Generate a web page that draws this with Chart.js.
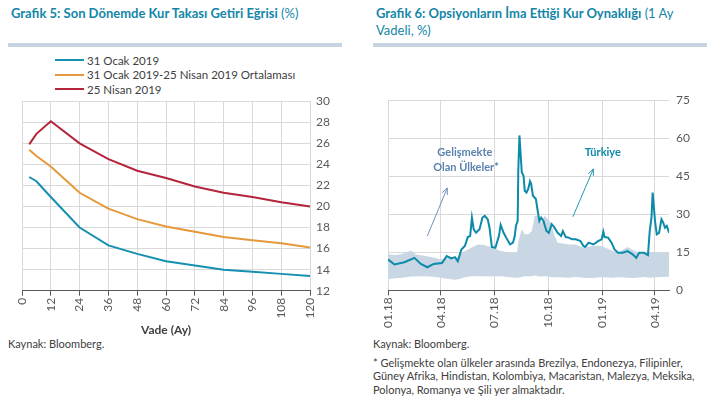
<!DOCTYPE html>
<html>
<head>
<meta charset="utf-8">
<script src="https://cdn.jsdelivr.net/npm/chart.js@4.4.0/dist/chart.umd.min.js"></script>
<style>
  body { margin: 0; width: 716px; height: 406px; background: #fff; font-family: Lato, sans-serif; position: relative; overflow: hidden; }
  .title { position: absolute; top: 5px; font-size: 13px; color: #1386a8; line-height: 17px; white-space: nowrap; }
  .bar { position: absolute; top: 43px; height: 4px; background: #c6d4e1; }
  .note { position: absolute; font-size: 11px; color: #404040; line-height: 13.4px; white-space: nowrap; }
  .box { position: absolute; width: 358px; }
  #legend5 { position: absolute; left: 55px; top: 53px; font-size: 11.5px; color: #404040; }
  #legend5 div { height: 14.5px; display: flex; align-items: center; }
  #legend5 .sw { display: inline-block; width: 29px; height: 2px; margin-right: 3px; }
</style>
</head>
<body>
<div class="title" style="left:11px"><b>Grafik 5: Son Dönemde Kur Takası Getiri Eğrisi</b> (%)</div>
<div class="bar" style="left:8px; width:334px"></div>
<div class="title" style="left:376px"><b>Grafik 6: Opsiyonların İma Ettiği Kur Oynaklığı</b> (1 Ay<br>Vadeli, %)</div>
<div class="bar" style="left:373px; width:334px"></div>

<div id="legend5"></div>
<div class="box" style="left:0; top:88px; height:249px"><canvas id="curveChart"></canvas></div>
<div class="box" style="left:358px; top:86px; height:251px"><canvas id="volChart"></canvas></div>

<div class="note" style="left:8px; top:337px">Kaynak: Bloomberg.</div>
<div class="note" style="left:373px; top:337px">Kaynak: Bloomberg.</div>
<div class="note" style="left:373px; top:356px">* Gelişmekte olan ülkeler arasında Brezilya, Endonezya, Filipinler,<br>Güney Afrika, Hindistan, Kolombiya, Macaristan, Malezya, Meksika,<br>Polonya, Romanya ve Şili yer almaktadır.</div>

<script>
// Grafik 5 - vade (ay) ve getiri (%)
const maturities = [3, 6, 12, 24, 36, 48, 60, 72, 84, 96, 108, 120];
const jan31 = [22.8, 22.4, 20.9, 18.0, 16.3, 15.5, 14.8, 14.4, 14.0, 13.8, 13.6, 13.4];
const avgJanApr = [25.4, 24.8, 23.8, 21.3, 19.8, 18.8, 18.1, 17.6, 17.1, 16.8, 16.5, 16.1];
const apr25 = [25.9, 26.9, 28.1, 26.0, 24.5, 23.4, 22.7, 21.9, 21.3, 20.9, 20.4, 20.0];
const curveNames = ['31 Ocak 2019', '31 Ocak 2019-25 Nisan 2019 Ortalaması', '25 Nisan 2019'];
const curveColors = ['#1690b0', '#e5993a', '#b4253b'];

// Grafik 6 - gün (1 Ocak 2018'den itibaren) ve oynaklık (%)
const turkeyDays = [0, 11, 28, 45, 56, 67, 78, 92, 100, 108, 114, 119, 125, 131, 136, 140, 143, 146, 150, 156,
  161, 165, 170, 173, 177, 183, 189, 192, 197, 203, 208, 213, 216, 218, 221, 222, 224, 226, 228, 231,
  233, 236, 239, 242, 244, 247, 252, 256, 258, 261, 265, 270, 274, 279, 283, 289, 295, 298, 303, 308,
  314, 320, 328, 333, 336, 342, 350, 358, 364, 367, 369, 375, 381, 386, 392, 400, 408, 417, 423, 428,
  436, 443, 446, 449, 451, 455, 458, 462, 466, 469, 472, 475, 479];
const turkeyVol = [12.2, 10.2, 11.1, 12.8, 10.4, 9.1, 10.4, 10.8, 13.5, 12.6, 13.1, 11.5, 16.1, 17.5, 21.0, 21.4, 28.7, 24.1, 22.7, 24.1,
  28.7, 29.4, 28.0, 24.7, 17.1, 16.8, 21.4, 25.8, 22.7, 20.1, 18.1, 18.8, 21.4, 25.4, 27.4, 47.2, 61.1, 53.8, 46.5, 45.2,
  39.3, 38.6, 40.0, 43.0, 41.9, 37.3, 36.0, 30.0, 27.4, 28.7, 27.4, 23.4, 22.7, 26.1, 25.0, 22.7, 21.4, 23.4, 21.0, 20.8,
  20.1, 20.1, 19.4, 17.5, 17.1, 18.8, 18.1, 19.4, 20.1, 23.1, 21.0, 20.8, 18.8, 16.1, 14.8, 14.8, 15.5, 14.2, 12.8, 14.8,
  14.8, 13.9, 23.4, 28.7, 38.6, 27.4, 22.1, 22.7, 28.0, 26.7, 24.7, 25.4, 22.7];
const bandDays = [0, 14, 25, 39, 47, 64, 81, 89, 103, 114, 122, 131, 142, 153, 164, 175, 192, 208, 220, 222,
  228, 233, 239, 245, 250, 256, 261, 267, 272, 278, 283, 289, 308, 320, 333, 347, 364, 381, 392, 408,
  419, 436, 447, 458, 479];
const bandHigh = [14.2, 13.9, 14.4, 15.7, 14.2, 13.5, 12.8, 12.2, 12.8, 12.2, 14.2, 15.5, 16.8, 18.1, 17.9, 17.1, 15.5, 14.8, 14.8, 19.4,
  24.1, 22.1, 22.1, 23.4, 29.4, 29.4, 26.7, 29.4, 28.0, 26.7, 22.1, 18.8, 18.1, 18.1, 16.8, 17.5, 17.5, 15.7, 14.8, 17.1,
  15.7, 14.2, 15.1, 14.8, 14.8];
const bandLow = [4.5, 4.8, 5.0, 5.5, 5.5, 5.6, 5.3, 5.0, 4.5, 4.2, 4.5, 5.2, 5.6, 5.6, 5.6, 5.5, 5.6, 5.2, 5.0, 5.0,
  5.3, 5.6, 5.6, 5.6, 5.8, 5.6, 5.5, 5.6, 5.5, 5.3, 5.2, 5.2, 5.0, 5.3, 5.0, 4.9, 5.2, 5.0, 5.2, 5.0,
  4.9, 5.3, 5.0, 5.2, 5.4];
const tickDays = [0, 90, 181, 273, 365, 455];
const tickLabels = ['01.18', '04.18', '07.18', '10.18', '01.19', '04.19'];

Chart.defaults.font.family = 'Lato';
Chart.defaults.animation = false;

function pts(xs, ys) {
  return xs.map((x, i) => ({x: x, y: ys[i]}));
}

// legend of Grafik 5 drawn as html, one per row
const legendBox = document.getElementById('legend5');
curveNames.forEach((name, i) => {
  const row = document.createElement('div');
  row.innerHTML = '<span class="sw" style="background:' + curveColors[i] + '"></span>' + name;
  legendBox.appendChild(row);
});

const curveSeries = [jan31, avgJanApr, apr25];
new Chart(document.getElementById('curveChart'), {
  type: 'line',
  data: {
    datasets: curveSeries.map((s, i) => ({
      label: curveNames[i],
      data: pts(maturities, s),
      borderColor: curveColors[i],
      borderWidth: 2,
      pointRadius: 0,
      tension: 0,
      fill: false
    }))
  },
  options: {
    responsive: true,
    maintainAspectRatio: false,
    layout: {padding: {left: 22, top: 4, right: 22, bottom: 0}},
    plugins: {legend: {display: false}, tooltip: {enabled: false}},
    scales: {
      x: {
        type: 'linear', min: 0, max: 120,
        ticks: {stepSize: 12, minRotation: 90, maxRotation: 90, color: '#595959', font: {size: 12}, padding: 2},
        grid: {color: '#d9d9d9', tickColor: '#595959', tickLength: 5},
        border: {color: '#595959'},
        title: {display: true, text: 'Vade (Ay)', color: '#404040', font: {size: 12, weight: 'bold'}, padding: {top: 2, bottom: 0}}
      },
      y: {
        position: 'right', min: 12, max: 30,
        ticks: {stepSize: 2, color: '#595959', font: {size: 12}, padding: 6},
        grid: {color: '#d9d9d9', drawTicks: false},
        border: {display: false}
      }
    }
  }
});

// arrows and notes of Grafik 6, in data units
const notes = [
  {text: 'Gelişmekte', day: 131, val: 54.2, color: '#5b83ad'},
  {text: 'Olan Ülkeler*', day: 133, val: 48.3, color: '#5b83ad'},
  {text: 'Türkiye', day: 366, val: 54.2, color: '#0c8aa9'}
];
const arrows = [
  {from: [67, 21.4], to: [101, 40.4], color: '#6f92b8'},
  {from: [315, 29.0], to: [350, 47.9], color: '#2a95b3'}
];

const notePlugin = {
  id: 'notes',
  afterDatasetsDraw(chart) {
    const ctx = chart.ctx, xs = chart.scales.x, ys = chart.scales.y;
    ctx.save();
    ctx.font = 'bold 11px Lato';
    ctx.textAlign = 'center';
    ctx.textBaseline = 'middle';
    notes.forEach(n => {
      ctx.fillStyle = n.color;
      ctx.fillText(n.text, xs.getPixelForValue(n.day), ys.getPixelForValue(n.val));
    });
    arrows.forEach(a => {
      const x0 = xs.getPixelForValue(a.from[0]), y0 = ys.getPixelForValue(a.from[1]);
      const x1 = xs.getPixelForValue(a.to[0]), y1 = ys.getPixelForValue(a.to[1]);
      const ang = Math.atan2(y1 - y0, x1 - x0);
      ctx.strokeStyle = a.color;
      ctx.lineWidth = 1;
      ctx.beginPath();
      ctx.moveTo(x0, y0);
      ctx.lineTo(x1, y1);
      ctx.moveTo(x1 - 7 * Math.cos(ang - 0.4), y1 - 7 * Math.sin(ang - 0.4));
      ctx.lineTo(x1, y1);
      ctx.lineTo(x1 - 7 * Math.cos(ang + 0.4), y1 - 7 * Math.sin(ang + 0.4));
      ctx.stroke();
    });
    ctx.restore();
  }
};

new Chart(document.getElementById('volChart'), {
  type: 'line',
  data: {
    datasets: [
      {
        label: 'Türkiye',
        data: pts(turkeyDays, turkeyVol),
        borderColor: '#0c8aa9',
        borderWidth: 2,
        pointRadius: 0,
        fill: false,
        order: 0
      },
      {
        label: 'low',
        data: pts(bandDays, bandLow),
        borderWidth: 0,
        borderColor: 'rgba(0,0,0,0)',
        pointRadius: 0,
        fill: false,
        order: 2
      },
      {
        label: 'Gelişmekte Olan Ülkeler',
        data: pts(bandDays, bandHigh),
        borderWidth: 0,
        borderColor: 'rgba(0,0,0,0)',
        backgroundColor: '#c9d7e5',
        pointRadius: 0,
        fill: '-1',
        order: 1
      }
    ]
  },
  options: {
    responsive: true,
    maintainAspectRatio: false,
    layout: {padding: {left: 30, top: 2, right: 19, bottom: 7}},
    plugins: {legend: {display: false}, tooltip: {enabled: false}},
    scales: {
      x: {
        type: 'linear', min: 0, max: 479,
        afterBuildTicks: scale => { scale.ticks = tickDays.map(v => ({value: v})); },
        ticks: {
          minRotation: 90, maxRotation: 90, color: '#595959', font: {size: 12}, padding: 2,
          callback: v => tickLabels[tickDays.indexOf(v)]
        },
        grid: {color: '#d9d9d9', tickColor: '#595959', tickLength: 5},
        border: {color: '#595959'}
      },
      y: {
        position: 'right', min: 0, max: 75,
        ticks: {stepSize: 15, color: '#595959', font: {size: 12}, padding: 7},
        grid: {color: '#d9d9d9', drawTicks: false},
        border: {display: false}
      }
    }
  },
  plugins: [notePlugin]
});
</script>
</body>
</html>
